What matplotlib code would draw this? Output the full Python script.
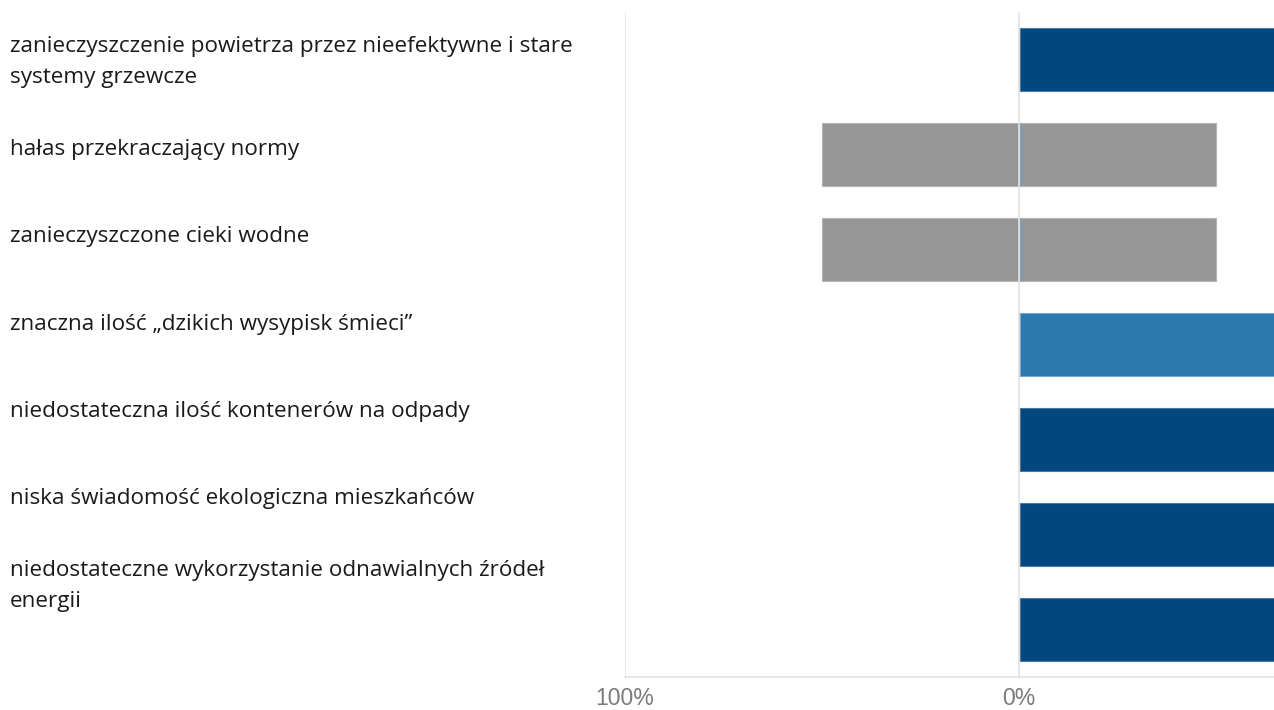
import matplotlib
matplotlib.use("Agg")
import matplotlib.pyplot as plt
import numpy as np

categories = [
    "zanieczyszczenie powietrza przez nieefektywne i stare\nsystemy grzewcze",
    "hałas przekraczający normy",
    "zanieczyszczone cieki wodne",
    "znaczna ilość „dzikich wysypisk śmieci”",
    "niedostateczna ilość kontenerów na odpady",
    "niska świadomość ekologiczna mieszkańców",
    "niedostateczne wykorzystanie odnawialnych źródeł\nenergii",
]
neutral = [0, 100, 100, 0, 0, 0, 0]
dark_blue = [100, 0, 0, 0, 100, 100, 100]
light_blue = [0, 0, 0, 100, 0, 0, 0]
tick_values = [-100, 0]
tick_labels = ["100%", "0%"]

W, H = 1274, 710
fig = plt.figure(figsize=(W / 100, H / 100), dpi=100)
ax = fig.add_axes([625 / W, 33 / H, (W - 625) / W, (677 - 12) / H])

y = np.arange(len(categories))
neutral = np.array(neutral, float)
dark_blue = np.array(dark_blue, float)
light_blue = np.array(light_blue, float)

bh = 0.67
ax.barh(y, -neutral / 2, left=0, height=bh, color="#969696", edgecolor="#b4b4b4", linewidth=0.8, zorder=3)
ax.barh(y, neutral / 2, left=0, height=bh, color="#969696", edgecolor="#b4b4b4", linewidth=0.8, zorder=3)
ax.barh(y, dark_blue, left=0.3, height=bh, color="#00487F", edgecolor="#4d7aa3", linewidth=0.8, zorder=3)
ax.barh(y, light_blue, left=0.3 + dark_blue, height=bh, color="#2C79B0", edgecolor="#7aa8cc", linewidth=0.8, zorder=3)

ax.set_xlim(-100, (W - 1019) / 394 * 100)
ax.set_ylim(len(categories) - 0.5, -0.5)
for v in tick_values:
    ax.axvline(v, color="#e3e3e3", linewidth=1.2, zorder=4 if v == 0 else 1)
for s in ["top", "right", "left"]:
    ax.spines[s].set_visible(False)
ax.spines["bottom"].set_color("#e3e3e3")
ax.spines["bottom"].set_linewidth(1.2)
ax.set_yticks([])
ax.set_xticks(tick_values)
ax.set_xticklabels(tick_labels, fontfamily="Liberation Sans", fontsize=16.5, color="#7a7a7a")
ax.tick_params(axis="x", length=0, pad=7.5)

label_centers = np.linspace(62, 586, len(categories))
for lab, cy in zip(categories, label_centers):
    fig.text(10 / W, 1 - cy / H, lab, ha="left", va="center", fontsize=16.2,
             fontfamily="Open Sans", color="#1a1a1a", linespacing=1.68)

fig.savefig("out.png", dpi=100)
